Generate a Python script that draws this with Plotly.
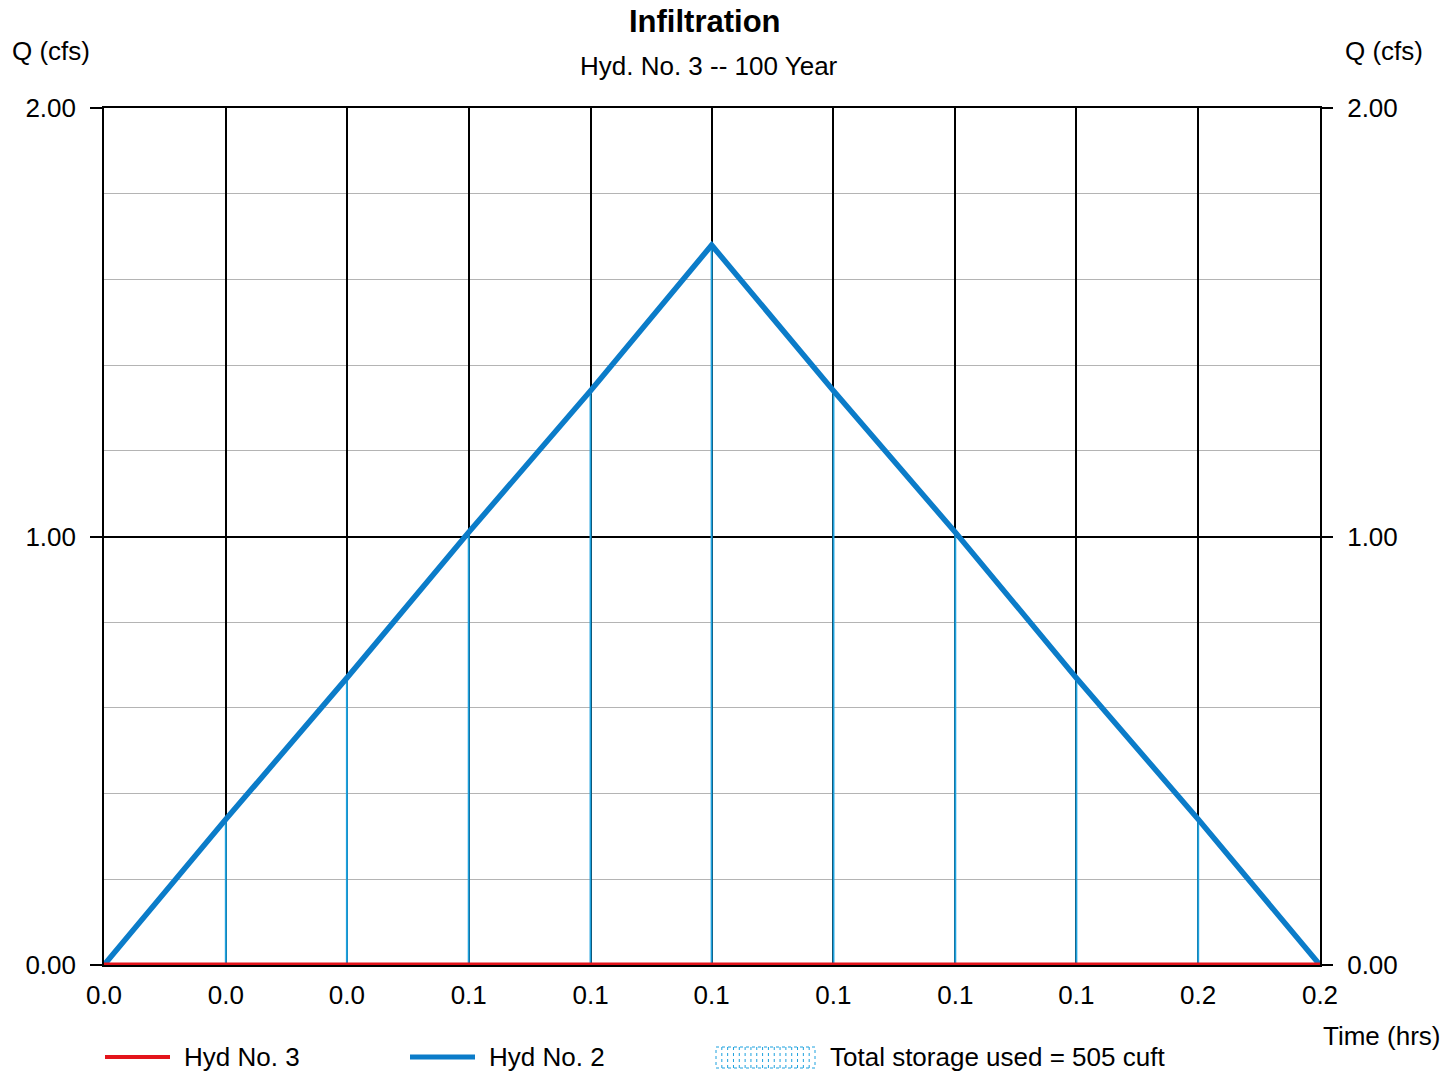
import plotly.graph_objects as go

# ---- data ----
TIME_HRS = [0.0, 0.0167, 0.0333, 0.05, 0.0667, 0.0833, 0.1, 0.1167, 0.1333, 0.15, 0.1667]
HYD2_CFS = [0.0, 0.34, 0.67, 1.01, 1.34, 1.68, 1.34, 1.01, 0.67, 0.34, 0.0]
HYD3_CFS = [0.0, 0.0, 0.0, 0.0, 0.0, 0.0, 0.0, 0.0, 0.0, 0.0, 0.0]
X_TICK_LABELS = ["0.0", "0.0", "0.0", "0.1", "0.1", "0.1", "0.1", "0.1", "0.1", "0.2", "0.2"]
Y_TICKS = [0.0, 1.0, 2.0]

FONT = "Liberation Sans"
BLUE = "#0b7cc9"
HATCH = "#1da1de"
RED = "#e3141b"
FS = 26

# layout geometry (pixels)
W, H = 1456, 1072
L, R, T, B = 104, 136, 108, 107
PW, PH = W - L - R, H - T - B


def px(x):
    return (x - L) / PW


def py(y):
    return (H - B - y) / PH


# storage hatch: vertical lines between Hyd 3 and Hyd 2 at each point
hx, hy = [], []
for t, top, bot in zip(TIME_HRS, HYD2_CFS, HYD3_CFS):
    hx += [t, t, None]
    hy += [bot, top, None]

fig = go.Figure()
fig.add_trace(go.Scatter(x=hx, y=hy, mode="lines", line=dict(color=HATCH, width=2),
                         showlegend=False, hoverinfo="skip"))
fig.add_trace(go.Scatter(x=TIME_HRS, y=HYD2_CFS, mode="lines", name="Hyd No. 2",
                         line=dict(color=BLUE, width=5.5), showlegend=False))
fig.add_trace(go.Scatter(x=TIME_HRS, y=HYD3_CFS, mode="lines", name="Hyd No. 3",
                         line=dict(color=RED, width=5), showlegend=False, cliponaxis=False))
# dummy trace for right axis
fig.add_trace(go.Scatter(x=[TIME_HRS[0]], y=[0], yaxis="y2", mode="markers",
                         marker=dict(opacity=0), showlegend=False, hoverinfo="skip"))

shapes = []
annotations = []


def label(text, x, y, size=FS, xanchor="center"):
    annotations.append(dict(text=text, x=px(x), y=py(y), xref="paper", yref="paper",
                            xanchor=xanchor, yanchor="middle", showarrow=False,
                            font=dict(size=size, color="black", family=FONT)))


# titles
label("<b>Infiltration</b>", 705, 22, size=31)
label("Hyd. No. 3 -- 100 Year", 709, 66)
label("Q (cfs)", 51, 51)
label("Q (cfs)", 1384, 51)
label("Time (hrs)", 1381, 1036)

# legend
LEG_Y = 1057
shapes.append(dict(type="line", xref="paper", yref="paper", x0=px(105), x1=px(170), y0=py(LEG_Y), y1=py(LEG_Y),
                   line=dict(color=RED, width=4)))
label("Hyd No. 3", 182, LEG_Y, xanchor="left")
shapes.append(dict(type="line", xref="paper", yref="paper", x0=px(410), x1=px(475), y0=py(LEG_Y), y1=py(LEG_Y),
                   line=dict(color=BLUE, width=5)))
label("Hyd No. 2", 487, LEG_Y, xanchor="left")
shapes.append(dict(type="rect", xref="paper", yref="paper", x0=px(716), x1=px(815), y0=py(1068), y1=py(1047),
                   line=dict(color=HATCH, width=1, dash="dot"), fillcolor="rgba(0,0,0,0)"))
for k in range(1, 17):
    xx = 716 + k * 99 / 17
    shapes.append(dict(type="line", xref="paper", yref="paper", x0=px(xx), x1=px(xx), y0=py(1068), y1=py(1047),
                       line=dict(color=HATCH, width=1, dash="dot")))
label("Total storage used = 505 cuft", 828, LEG_Y, xanchor="left")

fig.update_layout(
    width=W, height=H,
    margin=dict(l=L, r=R, t=T, b=B, pad=0),
    paper_bgcolor="white", plot_bgcolor="white",
    font=dict(family=FONT, size=FS, color="black"),
    shapes=shapes, annotations=annotations,
    showlegend=False,
    xaxis=dict(range=[TIME_HRS[0], TIME_HRS[-1]], tickvals=TIME_HRS, ticktext=X_TICK_LABELS,
               showgrid=True, gridcolor="black", gridwidth=1.6,
               showline=True, linecolor="black", linewidth=1.6, mirror=True,
               ticks="", ticklabelstandoff=6, zeroline=False,
               tickfont=dict(size=FS, family=FONT)),
    yaxis=dict(range=[0, 2], tickvals=Y_TICKS, tickformat=".2f",
               showgrid=True, gridcolor="black", gridwidth=1.6,
               minor=dict(dtick=0.2, showgrid=True, gridcolor="#b4b4b4", gridwidth=1),
               showline=True, linecolor="black", linewidth=1.6, mirror=True,
               ticks="outside", ticklen=12, tickcolor="black", tickwidth=1.6,
               ticklabelstandoff=9, zeroline=False,
               tickfont=dict(size=FS, family=FONT)),
    yaxis2=dict(range=[0, 2], tickvals=Y_TICKS, tickformat=".2f", overlaying="y", side="right",
                showgrid=False, showline=False, zeroline=False,
                ticks="outside", ticklen=12, tickcolor="black", tickwidth=1.6,
                ticklabelstandoff=9, tickfont=dict(size=FS, family=FONT)),
)

fig.write_html("out.html")
